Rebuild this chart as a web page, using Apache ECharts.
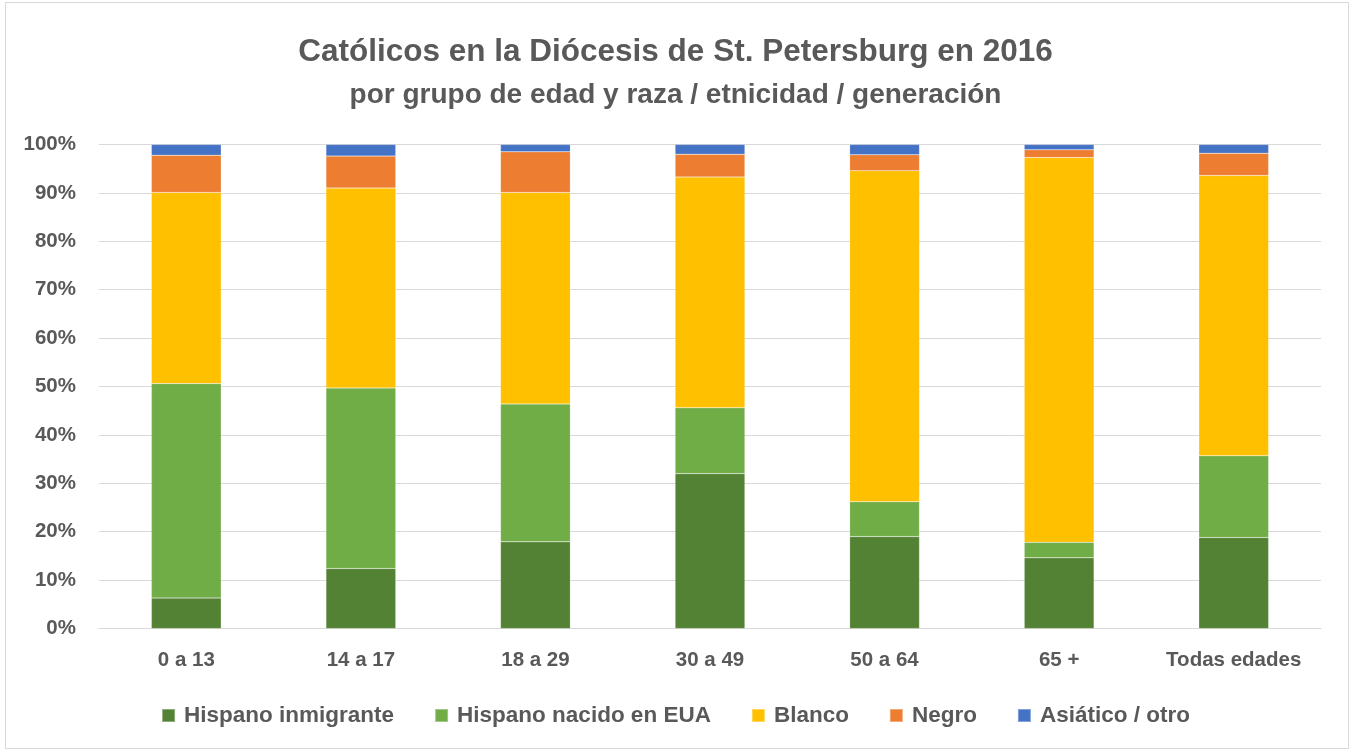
<!DOCTYPE html>
<html>
<head>
<meta charset="utf-8">
<script src="https://cdn.jsdelivr.net/npm/echarts@6/dist/echarts.min.js"></script>
<style>
    html, body { margin: 0; padding: 0; background: #fff; }
    #frame { position: absolute; left: 5px; top: 2px; width: 1342px; height: 745px; border: 1px solid #d9d9d9; }
    #chart { position: absolute; left: 0; top: 0; width: 1351px; height: 751px; }
</style>
</head>
<body>
<div id="frame"></div>
<div id="chart"></div>
<script>
// categorias (grupos de edad)
var categories = ['0 a 13', '14 a 17', '18 a 29', '30 a 49', '50 a 64', '65 +', 'Todas edades'];
// porcentajes por grupo
var hispanoInmigrante = [6.3, 12.4, 17.9, 32.0, 19.0, 14.6, 18.8];
var hispanoNacido = [44.3, 37.3, 28.5, 13.6, 7.2, 3.2, 16.9];
var blanco = [39.5, 41.3, 43.7, 47.7, 68.4, 79.5, 57.9];
var negro = [7.7, 6.6, 8.4, 4.7, 3.3, 1.6, 4.6];
var asiatico = [2.2, 2.4, 1.5, 2.0, 2.1, 1.1, 1.8];

var fontFam = '"Liberation Sans", Arial, sans-serif';
var txtColor = '#595959';

function makeSeries(name, data, color) {
    return {
        name: name,
        type: 'bar',
        stack: 'total',
        barWidth: '40%',
        data: data,
        itemStyle: { color: color, borderColor: 'rgba(255,255,255,0.35)', borderWidth: 0.5 }
    };
}

var chart = echarts.init(document.getElementById('chart'));
var option = {
    backgroundColor: 'transparent',
    animation: false,
    title: [{
        text: 'Católicos en la Diócesis de St. Petersburg en 2016',
        left: 'center',
        top: 31,
        textStyle: { fontFamily: fontFam, fontSize: 31.5, fontWeight: 'bold', color: txtColor }
    }, {
        text: 'por grupo de edad y raza / etnicidad / generación',
        left: 'center',
        top: 76,
        textStyle: { fontFamily: fontFam, fontSize: 28, fontWeight: 'bold', color: txtColor }
    }],
    legend: {
        bottom: 19,
        left: 'center',
        itemWidth: 13,
        itemHeight: 13,
        itemGap: 40,
        icon: 'rect',
        textStyle: { fontFamily: fontFam, fontSize: 22.5, color: txtColor, fontWeight: 'bold', padding: [0, 0, 0, 4] },
        data: ['Hispano inmigrante', 'Hispano nacido en EUA', 'Blanco', 'Negro', 'Asiático / otro']
    },
    grid: { left: 99, right: 30, top: 144.5, bottom: 122.5 },
    xAxis: {
        type: 'category',
        data: categories,
        axisLine: { lineStyle: { color: '#d9d9d9', width: 1 } },
        axisTick: { show: false },
        axisLabel: { interval: 0, fontFamily: fontFam, fontSize: 20.5, fontWeight: 'bold', color: txtColor, margin: 21 }
    },
    yAxis: {
        type: 'value',
        min: 0,
        max: 100,
        interval: 10,
        axisLine: { show: false },
        axisTick: { show: false },
        splitLine: { lineStyle: { color: '#d9d9d9', width: 1 } },
        axisLabel: { fontFamily: fontFam, fontSize: 20.5, fontWeight: 'bold', color: txtColor, margin: 23, formatter: '{value}%' }
    },
    series: [
        makeSeries('Hispano inmigrante', hispanoInmigrante, '#548235'),
        makeSeries('Hispano nacido en EUA', hispanoNacido, '#70ad47'),
        makeSeries('Blanco', blanco, '#ffc000'),
        makeSeries('Negro', negro, '#ed7d31'),
        makeSeries('Asiático / otro', asiatico, '#4472c4')
    ]
};
chart.setOption(option);
</script>
</body>
</html>
